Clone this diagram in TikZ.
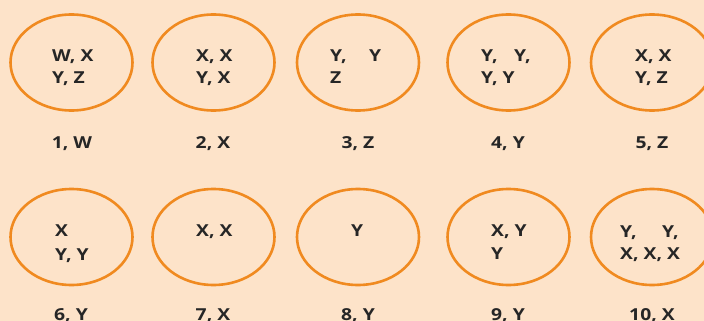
\documentclass[tikz,border=0pt]{standalone}
\usepackage{fontspec}
\setmainfont{Open Sans}[FakeStretch=1.17]
\usetikzlibrary{shapes.geometric}
\definecolor{bgpeach}{HTML}{FDE3C9}
\definecolor{ringorange}{HTML}{F08A20}
\definecolor{inkdark}{HTML}{262626}
\tikzset{
  ring/.style={ellipse, draw=ringorange, line width=2.6pt, minimum width=122pt, minimum height=96pt, inner sep=0pt},
  txt/.style={anchor=base west, inner sep=0pt, text=inkdark, font=\fontsize{16.5}{18}\selectfont\bfseries},
  lab/.style={anchor=base, inner sep=0pt, text=inkdark, font=\fontsize{16.5}{18}\selectfont\bfseries}
}
\begin{document}
\begin{tikzpicture}[x=1pt,y=-1pt]
\fill[bgpeach] (0,0) rectangle (704,321);
\useasboundingbox (0,0) rectangle (704,321);
\clip (0,0) rectangle (704,321);
% row 1 ellipses
\node[ring] (e1) at (71.5,62.5) {};
\node[ring] (e2) at (213.5,62.5) {};
\node[ring] (e3) at (358,62.5) {};
\node[ring] (e4) at (508.5,62.5) {};
\node[ring] (e5) at (652,62.5) {};
% row 2 ellipses
\node[ring] (e6) at (71.5,237) {};
\node[ring] (e7) at (213.5,237) {};
\node[ring] (e8) at (358,237) {};
\node[ring] (e9) at (508.5,237) {};
\node[ring] (e10) at (652,237) {};
% contents row 1
\node[txt] (t1a) at (52,62) {W, X};
\node[txt] (t1b) at (52,84) {Y, Z};
\node[txt] (t2a) at (196,62) {X, X};
\node[txt] (t2b) at (196,84) {Y, X};
\node[txt] (t3a) at (330,62) {Y,};
\node[txt] (t3c) at (369,62) {Y};
\node[txt] (t3b) at (330,84) {Z};
\node[txt] (t4a) at (481,62) {Y,};
\node[txt] (t4c) at (514,62) {Y,};
\node[txt] (t4b) at (481,84) {Y, Y};
\node[txt] (t5a) at (635,62) {X, X};
\node[txt] (t5b) at (635,84) {Y, Z};
% contents row 2
\node[txt] (t6a) at (55,236) {X};
\node[txt] (t6b) at (55,260) {Y, Y};
\node[txt] (t7a) at (196,236) {X, X};
\node[txt] (t8a) at (351,236) {Y};
\node[txt] (t9a) at (491,236) {X, Y};
\node[txt] (t9b) at (491,259) {Y};
\node[txt] (t10a) at (620,237) {Y,};
\node[txt] (t10c) at (662,237) {Y,};
\node[txt] (t10b) at (620,259) {X, X, X};
% labels
\node[lab] (l1) at (72,148) {1, W};
\node[lab] (l2) at (213,148) {2, X};
\node[lab] (l3) at (358,148) {3, Z};
\node[lab] (l4) at (508,148) {4, Y};
\node[lab] (l5) at (652,148) {5, Z};
\node[lab] (l6) at (71,320) {6, Y};
\node[lab] (l7) at (213,320) {7, X};
\node[lab] (l8) at (358,320) {8, Y};
\node[lab] (l9) at (508,320) {9, Y};
\node[lab] (l10) at (652,320) {10, X};
\end{tikzpicture}
\end{document}
